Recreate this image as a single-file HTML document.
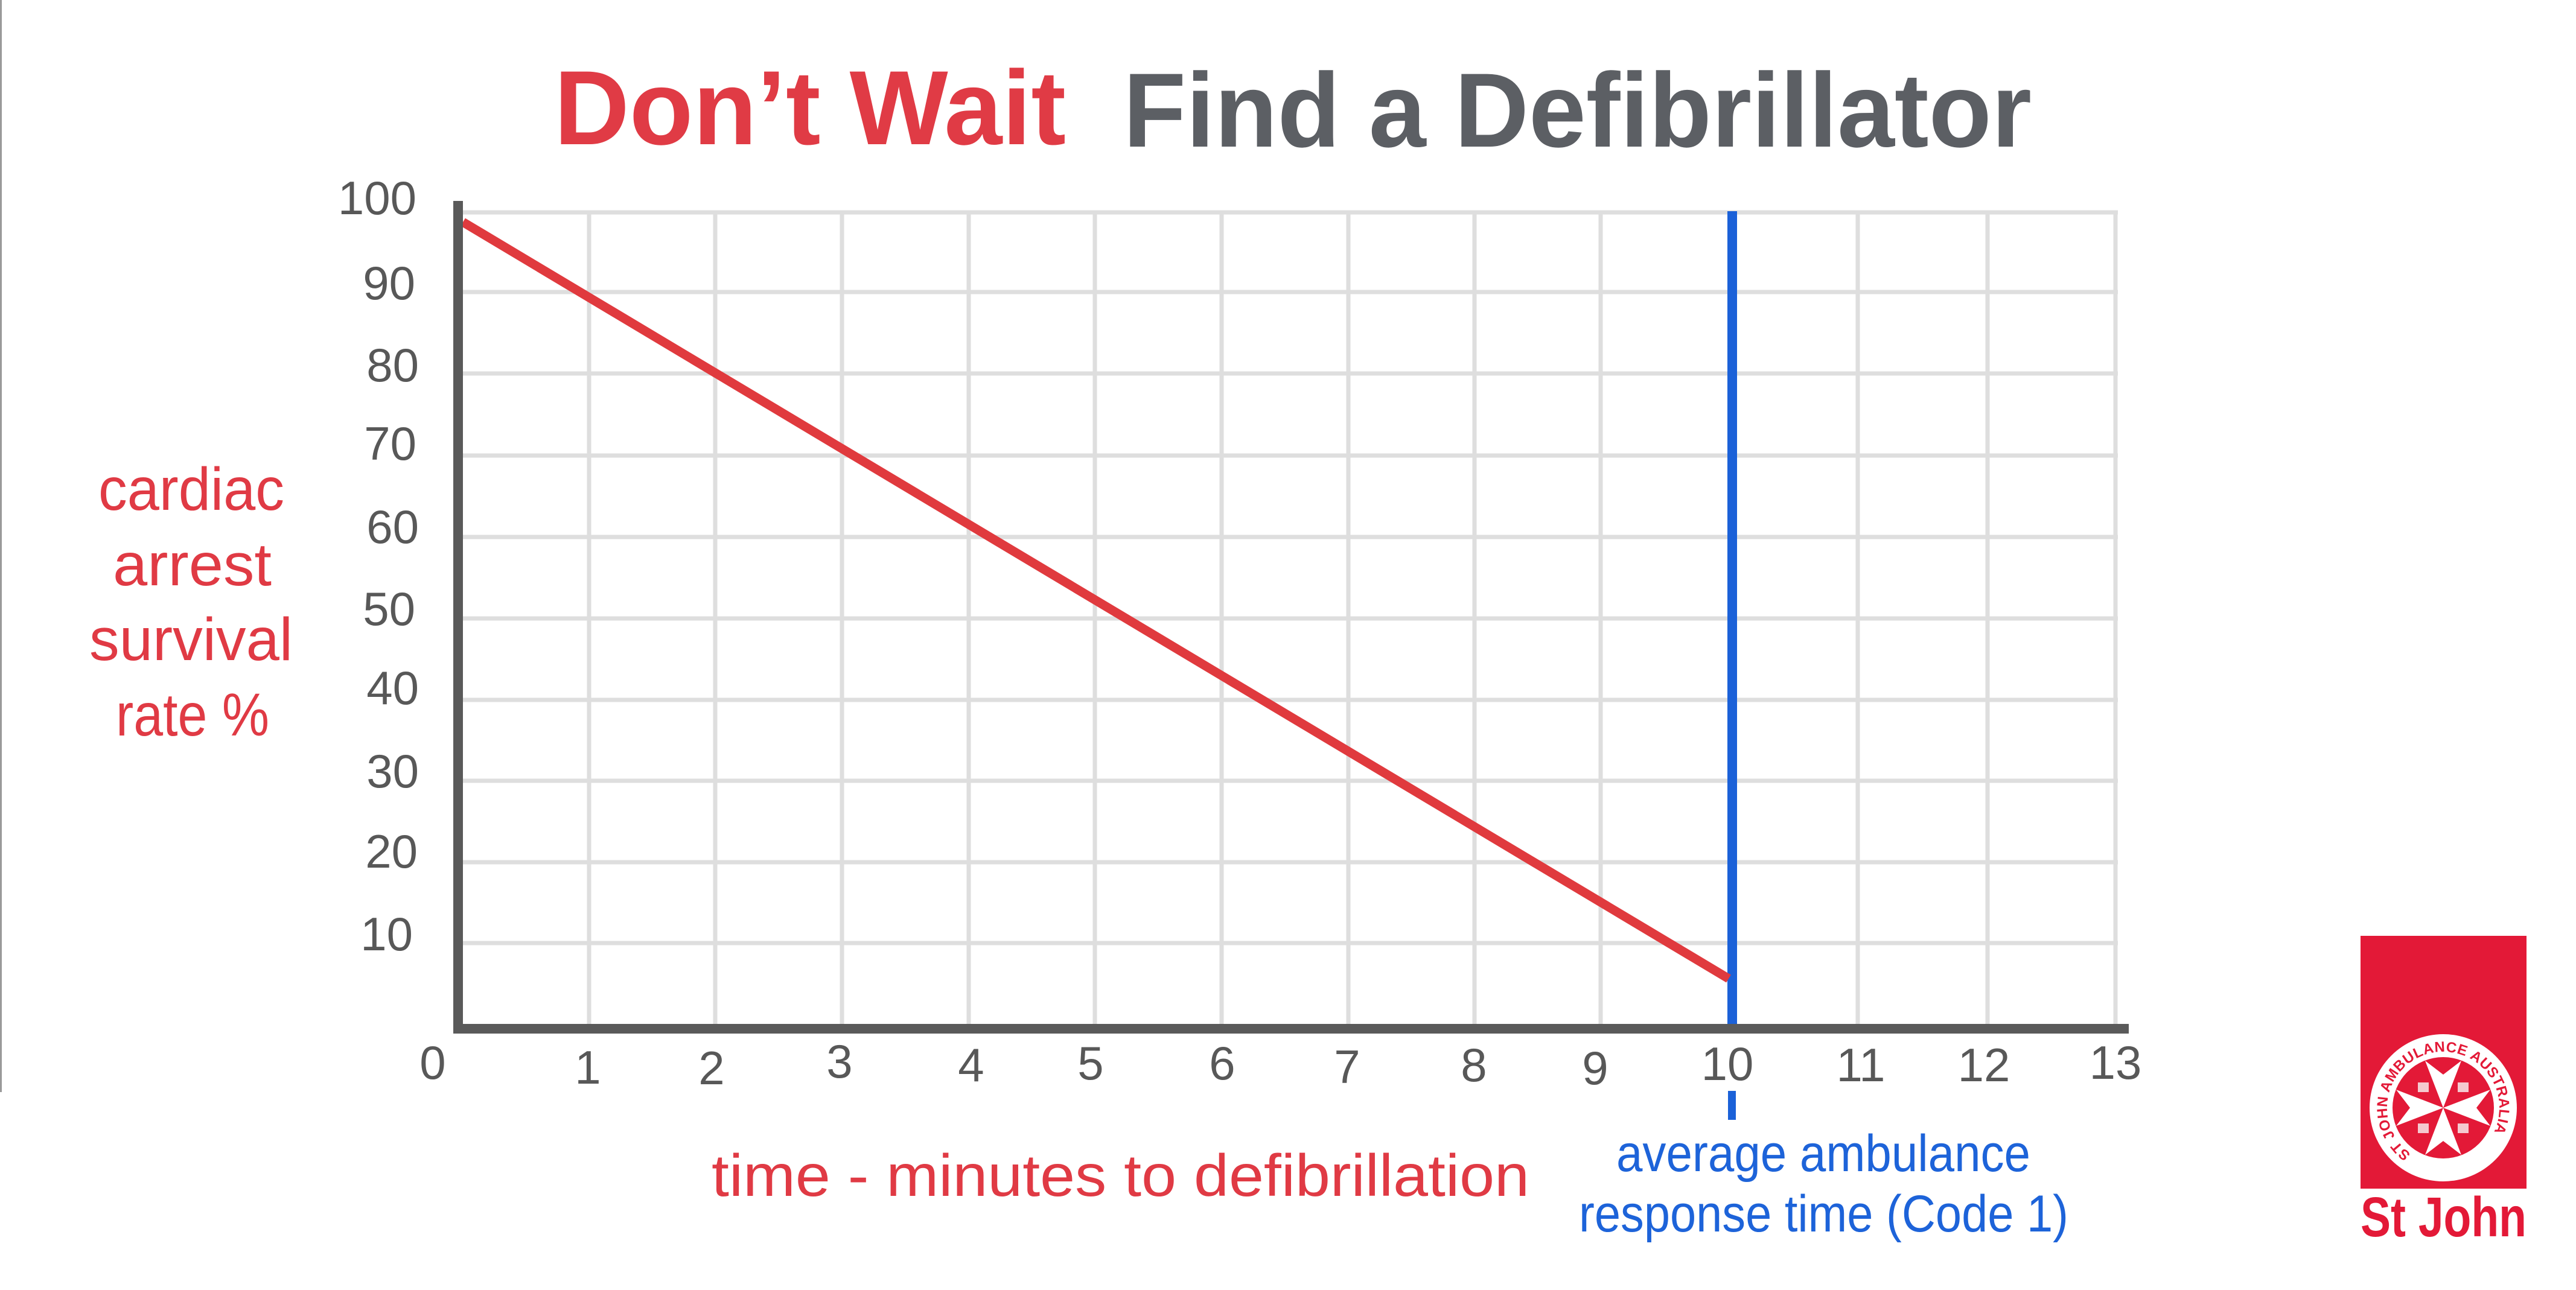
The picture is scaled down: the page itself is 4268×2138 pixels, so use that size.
<!DOCTYPE html>
<html>
<head>
<meta charset="utf-8">
<style>
  html, body { margin: 0; padding: 0; background: #ffffff; }
  body { width: 4268px; height: 2138px; overflow: hidden; }
  svg { display: block; }
</style>
</head>
<body>
<svg xmlns="http://www.w3.org/2000/svg" width="4268" height="2138" viewBox="0 0 4268 2138">
  <rect x="0" y="0" width="4268" height="2138" fill="#ffffff"/>
  <!-- thin left edge line -->
  <rect x="0" y="0" width="3" height="1810" fill="#9a9a9a"/>

  <!-- Title -->
  <text x="918" y="239" font-family="Liberation Sans, sans-serif" font-weight="bold" font-size="175" fill="#e03b45" textLength="848" lengthAdjust="spacingAndGlyphs">Don’t Wait</text>
  <text x="1861" y="243" font-family="Liberation Sans, sans-serif" font-weight="bold" font-size="175" fill="#5c5f64" textLength="1505" lengthAdjust="spacingAndGlyphs">Find a Defibrillator</text>

  <!-- horizontal gridlines -->
  <g stroke="#dedede" stroke-width="7">
    <line x1="767" y1="352" x2="3509" y2="352"/>
    <line x1="767" y1="484" x2="3509" y2="484"/>
    <line x1="767" y1="619" x2="3509" y2="619"/>
    <line x1="767" y1="755" x2="3509" y2="755"/>
    <line x1="767" y1="890" x2="3509" y2="890"/>
    <line x1="767" y1="1025" x2="3509" y2="1025"/>
    <line x1="767" y1="1160" x2="3509" y2="1160"/>
    <line x1="767" y1="1294" x2="3509" y2="1294"/>
    <line x1="767" y1="1429" x2="3509" y2="1429"/>
    <line x1="767" y1="1563" x2="3509" y2="1563"/>
  </g>
  <!-- vertical gridlines -->
  <g stroke="#dedede" stroke-width="7">
    <line x1="976" y1="349" x2="976" y2="1697"/>
    <line x1="1185" y1="349" x2="1185" y2="1697"/>
    <line x1="1395" y1="349" x2="1395" y2="1697"/>
    <line x1="1605" y1="349" x2="1605" y2="1697"/>
    <line x1="1814" y1="349" x2="1814" y2="1697"/>
    <line x1="2024" y1="349" x2="2024" y2="1697"/>
    <line x1="2234" y1="349" x2="2234" y2="1697"/>
    <line x1="2443" y1="349" x2="2443" y2="1697"/>
    <line x1="2652" y1="349" x2="2652" y2="1697"/>
    <line x1="3078" y1="349" x2="3078" y2="1697"/>
    <line x1="3293" y1="349" x2="3293" y2="1697"/>
    <line x1="3505" y1="349" x2="3505" y2="1697"/>
  </g>

  <!-- blue response line -->
  <rect x="2862" y="350" width="16" height="1348" fill="#1b61d8"/>
  <!-- small blue tick under 10 -->
  <rect x="2863" y="1808" width="13" height="48" fill="#1b61d8"/>

  <!-- red survival line -->
  <line x1="767" y1="368" x2="2864" y2="1622" stroke="#e03a3e" stroke-width="15"/>

  <!-- axes -->
  <rect x="751" y="333" width="16" height="1380" fill="#5a5a5a"/>
  <rect x="751" y="1697" width="2776" height="16" fill="#5a5a5a"/>

  <!-- y tick labels -->
  <g font-family="Liberation Sans, sans-serif" font-size="78" fill="#585858" text-anchor="end">
    <text x="690" y="355">100</text>
    <text x="688" y="496">90</text>
    <text x="694" y="632">80</text>
    <text x="690" y="762">70</text>
    <text x="694" y="900">60</text>
    <text x="688" y="1036">50</text>
    <text x="694" y="1167">40</text>
    <text x="694" y="1305">30</text>
    <text x="692" y="1438">20</text>
    <text x="684" y="1575">10</text>
  </g>

  <!-- x tick labels -->
  <g font-family="Liberation Sans, sans-serif" font-size="78" fill="#585858" text-anchor="middle">
    <text x="717" y="1788">0</text>
    <text x="974" y="1796">1</text>
    <text x="1179" y="1797">2</text>
    <text x="1391" y="1786">3</text>
    <text x="1609" y="1792">4</text>
    <text x="1807" y="1789">5</text>
    <text x="2025" y="1789">6</text>
    <text x="2232" y="1795">7</text>
    <text x="2442" y="1792">8</text>
    <text x="2643" y="1797">9</text>
    <text x="2862" y="1790">10</text>
    <text x="3083" y="1792">11</text>
    <text x="3287" y="1792">12</text>
    <text x="3505" y="1788">13</text>
  </g>

  <!-- y-axis title -->
  <g font-family="Liberation Sans, sans-serif" font-size="100" fill="#e03a44">
    <text x="163" y="845" textLength="308" lengthAdjust="spacingAndGlyphs">cardiac</text>
    <text x="187" y="970" textLength="263" lengthAdjust="spacingAndGlyphs">arrest</text>
    <text x="148" y="1094" textLength="337" lengthAdjust="spacingAndGlyphs">survival</text>
    <text x="192" y="1219" textLength="254" lengthAdjust="spacingAndGlyphs">rate %</text>
  </g>

  <!-- x-axis title -->
  <text x="1179" y="1982" font-family="Liberation Sans, sans-serif" font-size="98" fill="#e03a44" textLength="1355" lengthAdjust="spacingAndGlyphs">time - minutes to defibrillation</text>

  <!-- blue annotation -->
  <g font-family="Liberation Sans, sans-serif" font-size="86" fill="#1d63d9">
    <text x="2678" y="1941" textLength="686" lengthAdjust="spacingAndGlyphs">average ambulance</text>
    <text x="2616" y="2041" textLength="811" lengthAdjust="spacingAndGlyphs">response time (Code 1)</text>
  </g>

  <!-- St John logo -->
  <rect x="3911" y="1551" width="275" height="419" fill="#e31937"/>
  <circle cx="4048" cy="1836" r="122" fill="#ffffff"/>
  <circle cx="4048" cy="1836" r="84" fill="#e31937"/>
  <defs>
    <path id="ringpath" d="M 3994.6 1912.2 A 93 93 0 1 1 4101.4 1912.2"/>
  </defs>
  <text font-family="Liberation Sans, sans-serif" font-weight="bold" font-size="24" fill="#e31937" letter-spacing="0.5">
    <textPath href="#ringpath" startOffset="0">ST JOHN AMBULANCE AUSTRALIA</textPath>
  </text>
  <g transform="translate(4048,1836)" fill="#ffffff">
    <polygon points="0,0 -30,-78 0,-55 30,-78"/>
    <polygon points="0,0 -30,78 0,55 30,78"/>
    <polygon points="0,0 -78,-30 -55,0 -78,30"/>
    <polygon points="0,0 78,-30 55,0 78,30"/>
    <rect x="-42" y="-42" width="18" height="16" fill="#f4c9cf"/>
    <rect x="24" y="-42" width="18" height="16" fill="#f4c9cf"/>
    <rect x="-42" y="26" width="18" height="16" fill="#f4c9cf"/>
    <rect x="24" y="26" width="18" height="16" fill="#f4c9cf"/>
  </g>
  <text x="3911" y="2049" font-family="Liberation Sans, sans-serif" font-weight="bold" font-size="93" fill="#e31937" textLength="275" lengthAdjust="spacingAndGlyphs">St John</text>
</svg>
</body>
</html>
